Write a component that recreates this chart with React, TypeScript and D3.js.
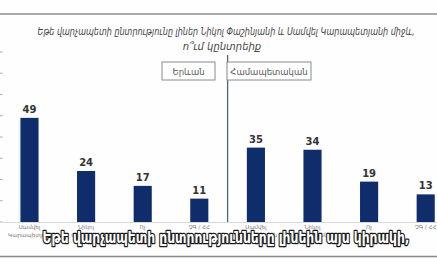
import React from 'react';
import * as d3 from 'd3';

// chart data
const regions = ['Երևան', 'Համապետական'];
const candidates = [['Սամվել', 'Կարապետյան'], ['Նիկոլ', 'Փաշինյան'], ['Ոչ', 'մեկին'], ['ՉԳ / ՀՀ']];
const yerevanValues = [49, 24, 17, 11];
const nationalValues = [35, 34, 19, 13];
const yTicks = [0, 10, 20, 30, 40, 50, 60, 70, 80];
const titleLines = [
    'Եթե վարչապետի ընտրությունը լիներ Նիկոլ Փաշինյանի և Սամվել Կարապետյանի միջև,',
    'ո՞ւմ կընտրեիք',
];
const caption = 'Եթե վարչապետի ընտրությունները լինեին այս կիրակի,';

const W = 437;
const H = 275;
const FONT = '"DejaVu Sans", "Noto Sans", sans-serif';

export default function App() {
    const rows = [
        ...yerevanValues.map((v, i) => ({ key: `0-${i}`, region: 0, label: candidates[i], value: v })),
        ...nationalValues.map((v, i) => ({ key: `1-${i}`, region: 1, label: candidates[i], value: v })),
    ];

    const x = d3.scaleBand()
        .domain(rows.map(d => d.key))
        .range([1.2, 454])
        .paddingInner(0.68)
        .paddingOuter(0.34);

    const y = d3.scaleLinear().domain([0, 80]).range([222, 52]);

    // divider sits halfway between the two groups
    const divX = (x(rows[3].key)! + x(rows[4].key)! + x.bandwidth()) / 2;

    const boxes = [
        { text: regions[0], x0: 162, x1: 215 },
        { text: regions[1], x0: 227, x1: 311 },
    ];

    return (
        <div style={{ position: 'fixed', left: 0, top: 0 }}>
            <svg width={W} height={H} style={{ display: 'block', background: '#fff' }} fontFamily={FONT}>
                <rect x={0} y={0} width={W} height={258} fill="#fefefe" />
                {/* top rule */}
                <line x1={0} x2={W} y1={14} y2={14} stroke="#a9a9ad" strokeWidth={2} />

                {/* title */}
                <text x={226} y={35} textAnchor="middle" fontSize={10} fontStyle="italic" fill="#444"
                    textLength={377} lengthAdjust="spacingAndGlyphs">{titleLines[0]}</text>
                <text x={222} y={50} textAnchor="middle" fontSize={10} fontStyle="italic" fill="#444">{titleLines[1]}</text>

                {/* y ticks */}
                {yTicks.map(t => (
                    <line key={t} x1={0} x2={2.5} y1={y(t)} y2={y(t)} stroke="#aaa" strokeWidth={1} />
                ))}
                <line x1={19} x2={19} y1={y(48)} y2={y(0)} stroke="#e4eef6" strokeWidth={1} />

                {/* baseline */}
                <line x1={0} x2={W} y1={y(0) + 0.5} y2={y(0) + 0.5} stroke="#d8d8d8" strokeWidth={1} />

                {/* divider */}
                <line x1={divX} x2={divX} y1={55} y2={y(0)} stroke="#4f6577" strokeWidth={1.3} />

                {/* region boxes */}
                {boxes.map(b => (
                    <g key={b.text}>
                        <rect x={b.x0} y={62} width={b.x1 - b.x0} height={18} fill="#fff" stroke="#8a8a8a" strokeWidth={1} />
                        <text x={(b.x0 + b.x1) / 2} y={74.5} textAnchor="middle" fontSize={8.5} fill="#555">{b.text}</text>
                    </g>
                ))}

                {/* bars */}
                {rows.map(d => (
                    <g key={d.key}>
                        <rect x={x(d.key)} y={y(d.value)} width={x.bandwidth()} height={y(0) - y(d.value)} fill="#0f2c6b" />
                        <text x={x(d.key)! + x.bandwidth() / 2} y={y(d.value) - 5} textAnchor="middle"
                            fontSize={10} fontWeight="bold" fill="#333">{d.value}</text>
                        {d.label.map((l, j) => (
                            <text key={j} x={x(d.key)! + x.bandwidth() / 2} y={229 + j * 8} textAnchor="middle"
                                fontSize={5.5} fill="#777">{l}</text>
                        ))}
                    </g>
                ))}

                {/* bottom rule */}
                <line x1={0} x2={W} y1={256.5} y2={256.5} stroke="#8a8a90" strokeWidth={1.5} />

                {/* caption overlay */}
                <text x={226} y={243} textAnchor="middle" fontSize={15} fontWeight="bold" fill="#fff"
                    stroke="#1a1a1a" strokeWidth={2.6} paintOrder="stroke" strokeLinejoin="round"
                    textLength={367} lengthAdjust="spacingAndGlyphs">{caption}</text>
            </svg>
        </div>
    );
}
